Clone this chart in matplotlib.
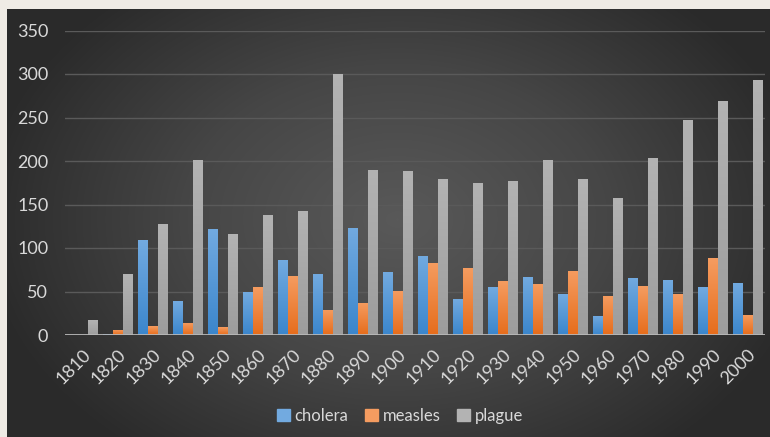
import numpy as np
import matplotlib
matplotlib.use('Agg')
import matplotlib.pyplot as plt
from matplotlib.colors import LinearSegmentedColormap

plt.rcParams['font.family'] = ['Lato', 'DejaVu Sans']

years = [1810, 1820, 1830, 1840, 1850, 1860, 1870, 1880, 1890, 1900,
         1910, 1920, 1930, 1940, 1950, 1960, 1970, 1980, 1990, 2000]
cholera = [0, 1, 109, 39, 122, 49, 86, 70, 123, 72,
           91, 41, 55, 67, 47, 22, 66, 63, 55, 60]
measles = [0, 6, 10, 14, 9, 55, 68, 29, 37, 51,
           83, 77, 62, 59, 74, 45, 56, 47, 88, 23]
plague = [17, 70, 128, 201, 116, 138, 142, 300, 190, 189,
          179, 175, 177, 201, 179, 158, 204, 247, 269, 293]
series = ['cholera', 'measles', 'plague']

W, H = 770, 437
fig = plt.figure(figsize=(W / 100, H / 100), dpi=100)
fig.patch.set_facecolor('#efebe5')

# dark radial background
bg = fig.add_axes([7 / W, 0, (W - 7) / W, (H - 9) / H])
bg.set_axis_off()
yy, xx = np.mgrid[0:428, 0:763]
r = np.sqrt(((xx - 390) / 420) ** 2 + ((yy - 210) / 300) ** 2)
r = np.clip(r, 0, 1)
bg_cmap = LinearSegmentedColormap.from_list('bg', ['#595959', '#464646', '#2a2a2a'])
bg.imshow(r, cmap=bg_cmap, aspect='auto', interpolation='bilinear', vmin=0, vmax=1)

ax = fig.add_axes([65 / W, (H - 335) / H, 700 / W, (335 - 30.5) / H])
ax.set_facecolor('none')

x = np.arange(len(years))
bw = 0.26
grads = {
    'cholera': ('#72aae0', '#3b86cc'),
    'measles': ('#f59c60', '#e66d1c'),
    'plague': ('#b3b3b3', '#9d9d9d'),
}
data = {'cholera': cholera, 'measles': measles, 'plague': plague}

for i, name in enumerate(series):
    top, bot = grads[name]
    cm = LinearSegmentedColormap.from_list(name, [bot, top])
    bars = ax.bar(x + (i - 1) * 0.29, data[name], width=bw, color=top,
                  label=name, zorder=3)
    for b in bars:
        h = b.get_height()
        if h <= 0:
            continue
        x0 = b.get_x()
        g = np.linspace(0, 1, 64).reshape(-1, 1)
        im = ax.imshow(g, cmap=cm, origin='lower', aspect='auto',
                       extent=[x0, x0 + b.get_width(), 0, h], zorder=3.5)
        im.set_clip_path(b)

ax.set_xlim(-0.5, len(years) - 0.5)
ax.set_ylim(0, 350)
ax.set_yticks(range(0, 351, 50))
ax.set_xticks(x)
ax.set_xticklabels(years, rotation=45, ha='right', va='top', rotation_mode='anchor')
ax.grid(axis='y', color='#5a5a5a', linewidth=1)
ax.set_axisbelow(True)
ax.axhline(0, color='#b8b8b8', linewidth=2, zorder=4)
for s in ax.spines.values():
    s.set_visible(False)
ax.tick_params(axis='both', length=0, colors='#d9d9d9', labelsize=13)
ax.tick_params(axis='y', pad=12)
ax.tick_params(axis='x', pad=8)

handles = [plt.Rectangle((0, 0), 1, 1, color=grads[n][0]) for n in series]
fig.legend(handles, series, loc='center', bbox_to_anchor=(400 / W, (H - 416) / H),
           ncol=3, frameon=False, fontsize=12, labelcolor='#d9d9d9',
           handlelength=0.75, handleheight=0.75, handletextpad=0.3, columnspacing=1.0)

fig.savefig('out.png', dpi=100, facecolor=fig.get_facecolor())
